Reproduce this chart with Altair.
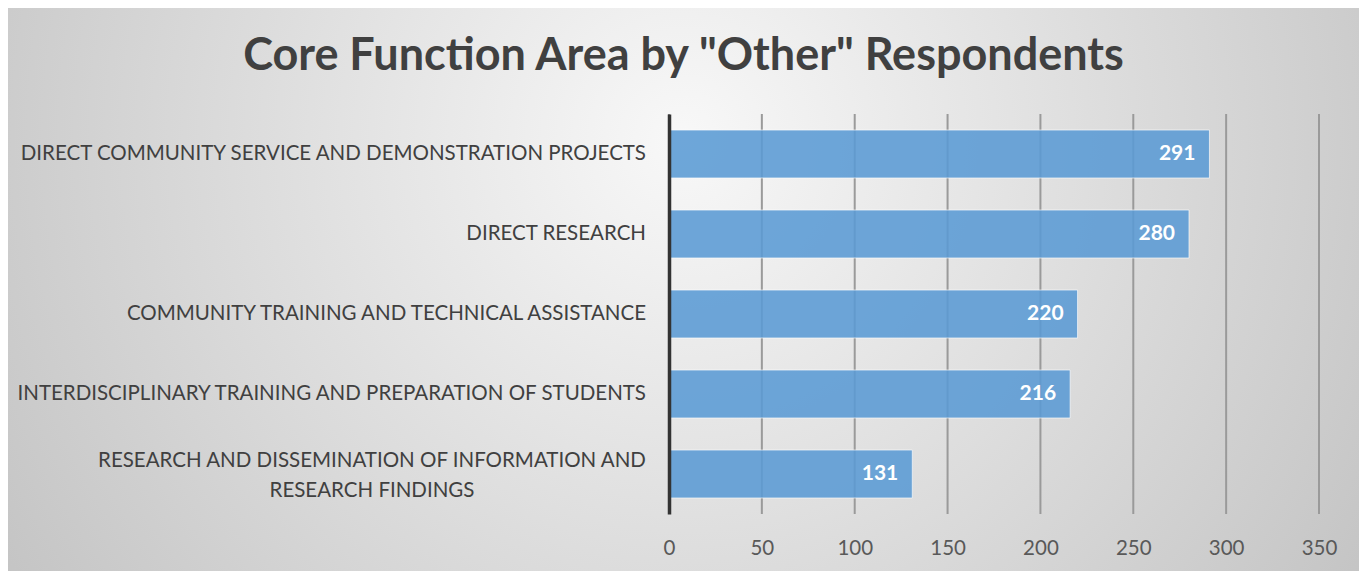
import altair as alt
import pandas as pd

# ---- data ----
categories = [
    "DIRECT COMMUNITY SERVICE AND DEMONSTRATION PROJECTS",
    "DIRECT RESEARCH",
    "COMMUNITY TRAINING AND TECHNICAL ASSISTANCE",
    "INTERDISCIPLINARY TRAINING AND PREPARATION OF STUDENTS",
    "RESEARCH AND DISSEMINATION OF INFORMATION AND RESEARCH FINDINGS",
]
label_text = [
    "DIRECT COMMUNITY SERVICE AND DEMONSTRATION PROJECTS",
    "DIRECT RESEARCH",
    "COMMUNITY TRAINING AND TECHNICAL ASSISTANCE",
    "INTERDISCIPLINARY TRAINING AND PREPARATION OF STUDENTS",
    "RESEARCH AND DISSEMINATION OF INFORMATION AND\nRESEARCH FINDINGS",
]
wrapped = [False, False, False, False, True]
values = [291, 280, 220, 216, 131]
tick_values = [0, 50, 100, 150, 200, 250, 300, 350]
title_text = 'Core Function Area by "Other" Respondents'

df = pd.DataFrame({"category": categories, "label": label_text,
                   "wrapped": wrapped, "value": values})
ticks_df = pd.DataFrame({"tick": tick_values})
title_df = pd.DataFrame({"title": [title_text]})

FONT = "Lato"
LABEL_SIZE = 20.5
PW, PH = 650, 400
PAD_L, PAD_T, PAD_R, PAD_B = 661, 106, 40, 57

xscale = alt.Scale(domain=[0, 350], nice=False)
yscale = alt.Scale(domain=categories, paddingInner=0.4, paddingOuter=0.2)

# background (radial gradient, like the chart area of the original)
bg = alt.Chart(alt.Data(values=[{"k": 1}])).mark_rect(
    color={
        "gradient": "radial",
        "x1": 0.5, "y1": 0.5, "r1": 0,
        "x2": 0.5, "y2": 0.5, "r2": 0.6,
        "stops": [
            {"offset": 0, "color": "#f8f8f8"},
            {"offset": 1, "color": "#c4c4c4"},
        ],
    }
).encode(
    x=alt.value(-PAD_L), x2=alt.value(PW + PAD_R),
    y=alt.value(26 - 676), y2=alt.value(26 + 676),
)

title = alt.Chart(title_df).mark_text(
    align="center", baseline="alphabetic", font=FONT, fontSize=45,
    fontWeight="bold", color="#404040"
).encode(
    x=alt.value(14.5), y=alt.value(-44), text="title:N",
)

grid = alt.Chart(ticks_df).mark_rule(color="#9a9a9a", strokeWidth=2).encode(
    x=alt.X("tick:Q", scale=xscale,
            axis=alt.Axis(values=tick_values, grid=False, domain=False, ticks=False,
                          labelFont=FONT, labelFontSize=LABEL_SIZE, labelColor="#595959",
                          labelPadding=24, labelFlush=False, labelOverlap=False,
                          title=None, zindex=1)),
    y=alt.value(0), y2=alt.value(PH),
)

bars = alt.Chart(df).mark_bar(
    color="#5B9BD5", opacity=0.88, stroke="#ffffff", strokeWidth=1, strokeOpacity=0.7
).encode(
    x=alt.X("value:Q", scale=xscale),
    y=alt.Y("category:N", scale=yscale, sort=categories,
            axis=alt.Axis(labels=False, ticks=False, grid=False, title=None,
                          domain=True, domainColor="#333333", domainWidth=3.5,
                          zindex=1)),
)

vals = alt.Chart(df).mark_text(
    align="right", baseline="middle", dx=-14, color="white",
    font=FONT, fontWeight="bold", fontSize=21
).encode(
    x=alt.X("value:Q", scale=xscale),
    y=alt.Y("category:N", scale=yscale, sort=categories),
    text=alt.Text("value:Q"),
)

cat_single = alt.Chart(df).transform_filter("!datum.wrapped").mark_text(
    align="right", baseline="middle", font=FONT, fontSize=LABEL_SIZE, color="#404040"
).encode(
    x=alt.value(-23),
    y=alt.Y("category:N", scale=yscale, sort=categories),
    text="label:N",
)

cat_wrapped = alt.Chart(df).transform_filter("datum.wrapped").mark_text(
    align="center", baseline="middle", font=FONT, fontSize=LABEL_SIZE, color="#404040",
    lineBreak="\n", lineHeight=30, dy=-13
).encode(
    x=alt.value(-297),
    y=alt.Y("category:N", scale=yscale, sort=categories),
    text="label:N",
)

chart = alt.layer(bg, title, grid, bars, vals, cat_single, cat_wrapped).properties(
    width=PW, height=PH,
    autosize=alt.AutoSizeParams(type="none"),
    padding={"left": PAD_L, "top": PAD_T, "right": PAD_R, "bottom": PAD_B},
).configure_view(stroke=None)

chart.save("out.html", embed_options={"renderer": "svg", "actions": False})
